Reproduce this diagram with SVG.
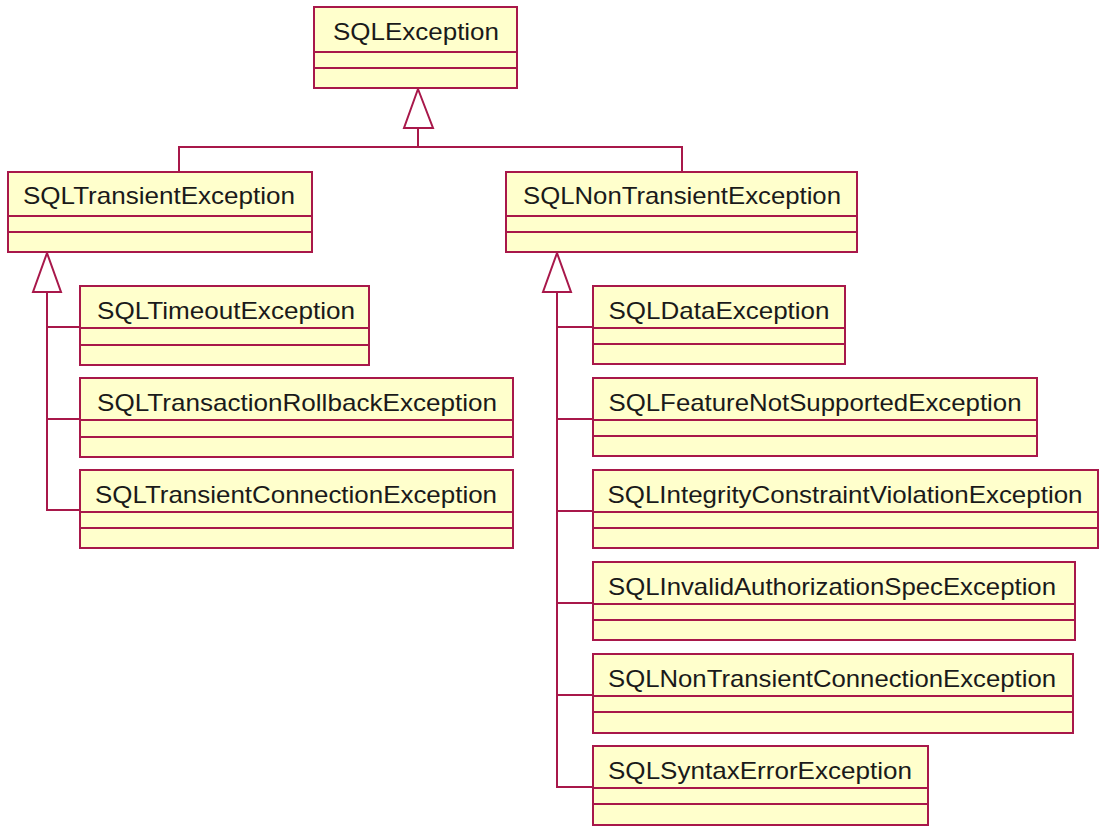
<svg xmlns="http://www.w3.org/2000/svg" width="1100" height="828" viewBox="0 0 1100 828">
<style>
.box{fill:#FFFFCC;stroke:#A8184A;stroke-width:2}
.sep{stroke:#A8184A;stroke-width:2;fill:none}
.lbl{font-family:"Liberation Sans",Arial,sans-serif;font-size:24px;fill:#1a1a1a;text-anchor:middle}
.ln{stroke:#A8184A;stroke-width:2;fill:none}
.tri{fill:#FFFFFF;stroke:#A8184A;stroke-width:2;stroke-linejoin:miter}
</style>
<rect width="1100" height="828" fill="#FFFFFF"/>
<g id="connectors">
  <path class="ln" d="M418,128 V147 M179,172 V147 H682 V172"/>
  <polygon class="tri" points="418,89 404,128 433,128"/>
  <path class="ln" d="M47,292 V510 H80 M47,327 H80 M47,419 H80"/>
  <polygon class="tri" points="47,253 33,292 61,292"/>
  <path class="ln" d="M557,292 V787 H593 M557,327 H593 M557,419 H593 M557,511 H593 M557,603 H593 M557,695 H593"/>
  <polygon class="tri" points="557,253 543,292 571,292"/>
</g>
<g id="SQLException">
  <rect class="box" x="314" y="7" width="203" height="81"/>
  <path class="sep" d="M314,52 H517 M314,68 H517"/>
  <text class="lbl" x="416" y="40" textLength="166" lengthAdjust="spacingAndGlyphs">SQLException</text>
</g>
<g id="SQLTransientException">
  <rect class="box" x="8" y="172" width="304" height="80"/>
  <path class="sep" d="M8,216 H312 M8,232 H312"/>
  <text class="lbl" x="159" y="204" textLength="272" lengthAdjust="spacingAndGlyphs">SQLTransientException</text>
</g>
<g id="SQLNonTransientException">
  <rect class="box" x="506" y="172" width="351" height="80"/>
  <path class="sep" d="M506,216 H857 M506,232 H857"/>
  <text class="lbl" x="682" y="204" textLength="318" lengthAdjust="spacingAndGlyphs">SQLNonTransientException</text>
</g>
<g id="SQLTimeoutException">
  <rect class="box" x="80" y="286" width="289" height="79"/>
  <path class="sep" d="M80,328 H369 M80,345 H369"/>
  <text class="lbl" x="226" y="319" textLength="258" lengthAdjust="spacingAndGlyphs">SQLTimeoutException</text>
</g>
<g id="SQLTransactionRollbackException">
  <rect class="box" x="80" y="378" width="433" height="79"/>
  <path class="sep" d="M80,420 H513 M80,437 H513"/>
  <text class="lbl" x="297" y="411" textLength="400" lengthAdjust="spacingAndGlyphs">SQLTransactionRollbackException</text>
</g>
<g id="SQLTransientConnectionException">
  <rect class="box" x="80" y="470" width="433" height="78"/>
  <path class="sep" d="M80,512 H513 M80,528 H513"/>
  <text class="lbl" x="296" y="503" textLength="402" lengthAdjust="spacingAndGlyphs">SQLTransientConnectionException</text>
</g>
<g id="SQLDataException">
  <rect class="box" x="593" y="286" width="252" height="78"/>
  <path class="sep" d="M593,328 H845 M593,344 H845"/>
  <text class="lbl" x="719" y="319" textLength="221" lengthAdjust="spacingAndGlyphs">SQLDataException</text>
</g>
<g id="SQLFeatureNotSupportedException">
  <rect class="box" x="593" y="378" width="444" height="78"/>
  <path class="sep" d="M593,420 H1037 M593,436 H1037"/>
  <text class="lbl" x="815" y="411" textLength="413" lengthAdjust="spacingAndGlyphs">SQLFeatureNotSupportedException</text>
</g>
<g id="SQLIntegrityConstraintViolationException">
  <rect class="box" x="593" y="470" width="505" height="78"/>
  <path class="sep" d="M593,512 H1098 M593,528 H1098"/>
  <text class="lbl" x="845" y="503" textLength="475" lengthAdjust="spacingAndGlyphs">SQLIntegrityConstraintViolationException</text>
</g>
<g id="SQLInvalidAuthorizationSpecException">
  <rect class="box" x="593" y="562" width="482" height="78"/>
  <path class="sep" d="M593,604 H1075 M593,620 H1075"/>
  <text class="lbl" x="832" y="595" textLength="448" lengthAdjust="spacingAndGlyphs">SQLInvalidAuthorizationSpecException</text>
</g>
<g id="SQLNonTransientConnectionException">
  <rect class="box" x="593" y="654" width="480" height="79"/>
  <path class="sep" d="M593,696 H1073 M593,712 H1073"/>
  <text class="lbl" x="832" y="687" textLength="448" lengthAdjust="spacingAndGlyphs">SQLNonTransientConnectionException</text>
</g>
<g id="SQLSyntaxErrorException">
  <rect class="box" x="593" y="746" width="335" height="79"/>
  <path class="sep" d="M593,788 H928 M593,804 H928"/>
  <text class="lbl" x="760" y="779" textLength="304" lengthAdjust="spacingAndGlyphs">SQLSyntaxErrorException</text>
</g>
</svg>
